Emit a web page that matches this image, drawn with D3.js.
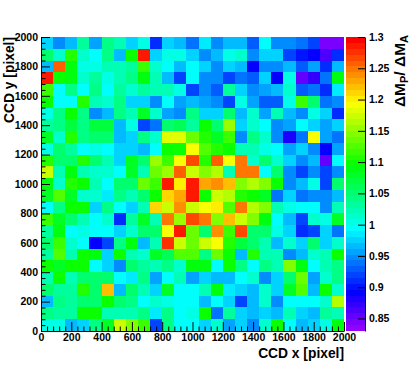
<!DOCTYPE html>
<html><head><meta charset="utf-8">
<script src="https://cdn.jsdelivr.net/npm/d3@7"></script>
<style>
body{margin:0;background:#fff}
text{font-family:"Liberation Sans",Arial,Helvetica,sans-serif;font-weight:bold}
</style>
</head><body>
<svg id="c" width="410" height="368"></svg>
<script>
// ---- data ----
const xBins = [0,80,160,240,320,400,480,560,640,720,800,880,960,1040,1120,1200,1280,1360,1440,1520,1600,1680,1760,1840,1920];
const yBins = [1920,1840,1760,1680,1600,1520,1440,1360,1280,1200,1120,1040,960,880,800,720,640,560,480,400,320,240,160,80,0];
const binWidth = 80;
// rows from top (y=1920-2000) to bottom (y=0-80), columns left to right
const zValues = [
[0.975,0.95,0.965,1.03,0.96,1.04,1.025,0.98,1.005,0.91,0.975,0.97,0.94,0.985,0.95,0.965,0.965,0.925,0.99,0.95,0.95,0.935,0.915,0.845,0.848],
[1.05,1.015,1.11,1.015,0.99,1.045,0.965,1.10,1.29,0.98,1.0,1.005,0.98,0.945,0.965,1.005,1.015,0.95,0.975,0.98,0.92,0.905,0.89,0.865,0.91],
[0.97,1.26,1.09,1.0,1.0,1.025,1.025,1.03,1.12,1.01,0.99,0.97,0.99,0.98,0.95,0.98,0.965,0.89,0.945,0.945,0.965,0.93,0.955,0.91,0.965],
[1.29,1.095,1.09,1.015,1.03,1.0,1.025,1.04,1.09,1.02,0.97,0.92,0.99,0.95,0.945,0.915,0.935,0.925,0.98,0.89,1.005,0.855,0.875,0.935,1.09],
[1.12,0.99,1.045,0.993,1.045,0.995,1.035,1.015,1.03,1.025,1.02,1.005,0.915,0.95,0.925,1.03,0.98,0.95,0.96,0.965,1.01,0.925,0.935,0.91,0.985],
[1.095,0.993,0.995,1.11,1.025,1.015,1.045,0.975,0.98,0.95,0.99,0.96,0.965,0.96,0.945,0.92,1.0,0.96,0.925,0.925,1.005,1.12,1.055,0.94,0.95],
[1.005,1.04,1.10,1.045,0.95,0.97,1.045,1.025,1.08,1.01,0.96,0.95,1.04,0.98,0.98,1.055,0.965,1.01,0.96,1.025,0.97,0.945,1.005,0.975,0.91],
[1.035,1.04,1.07,1.04,1.07,1.07,0.97,1.005,0.92,0.935,1.05,1.065,1.035,1.095,1.055,1.15,0.98,1.01,0.993,0.945,0.96,0.993,0.975,0.96,0.975],
[1.08,1.015,1.11,1.045,1.05,1.05,0.97,0.98,1.04,1.015,1.18,1.18,1.135,1.11,1.08,1.12,0.95,1.04,1.015,0.945,0.88,0.935,1.195,0.96,0.94],
[1.0,1.05,1.03,0.993,1.005,0.995,0.98,0.98,0.97,0.993,1.095,1.1,1.195,1.13,1.11,1.10,1.025,1.025,1.005,0.99,0.955,0.98,0.945,0.89,0.955],
[1.11,1.05,1.055,1.11,1.055,1.025,0.98,1.08,1.05,1.15,1.12,1.19,1.265,1.11,1.26,1.195,1.25,1.015,1.05,1.015,0.98,0.95,0.965,0.85,0.99],
[1.17,1.025,1.09,1.025,1.015,1.01,0.99,1.08,1.02,1.135,1.15,1.26,1.17,1.145,1.165,1.02,1.25,1.25,0.99,1.05,0.95,0.915,0.95,0.915,0.95],
[1.09,1.015,1.11,1.095,1.025,0.99,1.05,1.05,1.135,1.12,1.29,1.2,1.29,1.23,1.24,1.22,1.145,1.16,1.145,1.095,0.95,0.965,1.005,0.915,1.05],
[1.08,1.13,1.08,1.015,1.015,0.985,1.04,1.025,1.055,1.10,1.215,1.225,1.29,1.10,1.175,1.165,1.11,1.095,1.08,0.94,0.975,0.935,0.95,0.95,0.965],
[0.993,1.04,1.095,1.095,0.975,1.04,0.99,0.975,1.025,1.215,1.175,1.235,1.175,1.195,1.205,1.13,1.245,1.16,1.145,1.025,1.005,0.993,0.993,0.945,1.02],
[1.12,1.08,1.05,1.025,0.99,1.01,0.91,1.035,1.08,1.025,1.25,1.15,1.265,1.245,1.145,1.22,1.175,1.145,1.09,0.995,0.97,0.915,1.015,1.005,1.08],
[1.03,1.09,0.993,1.005,0.99,0.99,0.975,1.01,1.05,1.05,1.195,1.29,1.14,1.055,1.24,1.12,1.265,1.05,1.05,1.005,0.98,0.91,0.915,0.975,0.94],
[1.05,1.12,1.015,0.99,0.895,0.92,1.045,1.09,0.965,1.02,1.275,1.17,1.135,1.17,1.195,1.11,1.07,1.05,1.025,0.965,1.015,0.98,1.05,0.98,1.01],
[1.03,1.13,1.025,1.095,1.09,0.975,1.10,1.025,1.015,1.08,1.065,1.13,1.13,1.045,1.135,1.10,0.965,1.11,1.025,1.025,0.945,0.965,1.01,1.02,1.10],
[1.095,1.08,1.10,1.10,0.993,0.98,0.95,1.05,1.03,1.025,1.045,1.01,1.085,1.09,0.99,1.10,1.04,0.995,1.04,1.02,1.145,1.09,0.99,1.02,1.04],
[1.025,1.095,1.025,1.05,1.05,1.055,0.993,0.985,1.04,0.955,0.99,1.02,0.96,0.98,0.965,0.965,0.99,1.015,0.945,0.975,1.05,1.135,0.96,1.015,1.04],
[1.05,1.03,1.03,1.11,1.055,1.22,0.965,1.05,1.025,0.975,1.08,0.993,0.993,1.025,1.09,0.985,0.98,0.97,1.01,0.98,1.08,1.13,0.965,1.095,1.015],
[0.965,1.045,1.03,1.05,1.05,1.10,1.05,1.04,0.993,1.015,1.0,0.99,0.99,0.965,0.99,0.975,0.915,0.965,1.015,0.945,0.99,0.99,0.99,1.01,1.16],
[1.045,1.03,1.03,1.095,1.10,1.02,1.025,1.025,1.04,0.985,1.045,0.99,1.0,1.095,0.935,1.03,0.98,0.97,0.98,0.965,1.02,0.98,0.97,1.035,1.025],
[1.005,1.005,0.965,0.98,1.04,1.08,1.175,1.145,1.12,0.92,1.04,0.993,0.99,0.98,1.015,0.955,0.98,0.95,1.015,1.095,0.99,0.97,0.975,1.005,1.09]
];
const xTicks = [0,200,400,600,800,1000,1200,1400,1600,1800,2000];
const yTicks = [0,200,400,600,800,1000,1200,1400,1600,1800,2000];
const xMinorTicks = [40,80,120,160,240,280,320,360,440,480,520,560,640,680,720,760,840,880,920,960,1040,1080,1120,1160,1240,1280,1320,1360,1440,1480,1520,1560,1640,1680,1720,1760,1840,1880,1920,1960];
const yMinorTicks = xMinorTicks;
const zTicks = [0.85,0.9,0.95,1,1.05,1.1,1.15,1.2,1.25,1.3];
const zMin = 0.83, zMax = 1.30;
const nContours = 50;

// ---- drawing ----
const svg = d3.select("#c");
const x = d3.scaleLinear().domain([0,2000]).range([41,344]);
const y = d3.scaleLinear().domain([0,2000]).range([331,37]);
const z = d3.scaleLinear().domain([zMin,zMax]).range([331,37]);

// ROOT "pretty palette": 50 HLS colours, hue 274.4 -> 0
const palette = d3.range(nContours).map(i => d3.hsl(280 - (i+1)*(280/nContours), 1, 0.5).formatHex());
const dz = (zMax - zMin)/nContours;
function colorOf(v){
  let k = Math.floor((v - zMin)/dz);
  k = Math.max(0, Math.min(nContours-1, k));
  return palette[k];
}

const cells = [];
zValues.forEach((row, r) => row.forEach((v, c) => cells.push({x0:xBins[c], y0:yBins[r], v})));

svg.append("g").attr("shape-rendering","crispEdges")
  .selectAll("rect").data(cells).join("rect")
  .attr("x", d => x(d.x0))
  .attr("y", d => y(d.y0 + binWidth))
  .attr("width", d => x(d.x0 + binWidth) - x(d.x0))
  .attr("height", d => y(d.y0) - y(d.y0 + binWidth))
  .attr("fill", d => colorOf(d.v));

function styleAxis(g){
  g.selectAll("line").attr("stroke","#000");
  g.selectAll("path").attr("stroke","#000");
  g.selectAll("text").attr("font-size","10.5px").attr("fill","#000")
    .attr("font-family",'"Liberation Sans",Arial,sans-serif').attr("font-weight","bold");
}

// X axis
svg.append("g").attr("transform","translate(0,331)")
  .call(d3.axisBottom(x).tickValues(xMinorTicks).tickSize(-4.5).tickFormat(""))
  .call(g => g.select(".domain").remove()).call(styleAxis);
svg.append("g").attr("transform","translate(0,331)")
  .call(d3.axisBottom(x).tickValues(xTicks).tickSize(-9).tickSizeOuter(0).tickPadding(3).tickFormat(d3.format("d")))
  .call(styleAxis);

// Y axis
svg.append("g").attr("transform","translate(41,0)")
  .call(d3.axisLeft(y).tickValues(yMinorTicks).tickSize(-4.5).tickFormat(""))
  .call(g => g.select(".domain").remove()).call(styleAxis);
svg.append("g").attr("transform","translate(41,0)")
  .call(d3.axisLeft(y).tickValues(yTicks).tickSize(-9).tickSizeOuter(0).tickPadding(3).tickFormat(d3.format("d")))
  .call(styleAxis);

// Colour bar
const barX0 = 346, barX1 = 365;
svg.append("g").attr("shape-rendering","crispEdges")
  .selectAll("rect").data(palette).join("rect")
  .attr("x", barX0)
  .attr("width", barX1 - barX0)
  .attr("y", (d,i) => z(zMin + (i+1)*dz))
  .attr("height", (d,i) => z(zMin + i*dz) - z(zMin + (i+1)*dz))
  .attr("fill", d => d);
svg.append("g").attr("transform",`translate(${barX1},0)`)
  .call(d3.axisRight(z).tickValues(zTicks).tickSize(-7).tickSizeOuter(0).tickPadding(4).tickFormat(d => String(d)))
  .call(styleAxis);

// Titles
svg.append("text").attr("x",344).attr("y",358).attr("text-anchor","end")
  .attr("font-size","13.8px").text("CCD x [pixel]");
svg.append("text").attr("transform","translate(14,37) rotate(-90)").attr("text-anchor","end")
  .attr("font-size","13.8px").text("CCD y [pixel]");
const zt = svg.append("text").attr("transform","translate(405,35) rotate(-90)").attr("text-anchor","end")
  .attr("font-size","15.5px");
zt.append("tspan").text("ΔM");
zt.append("tspan").attr("font-size","11px").attr("dy","3").text("P");
zt.append("tspan").attr("dy","-3").text("/ ΔM");
zt.append("tspan").attr("font-size","11px").attr("dy","3").text("A");
</script>
</body></html>
